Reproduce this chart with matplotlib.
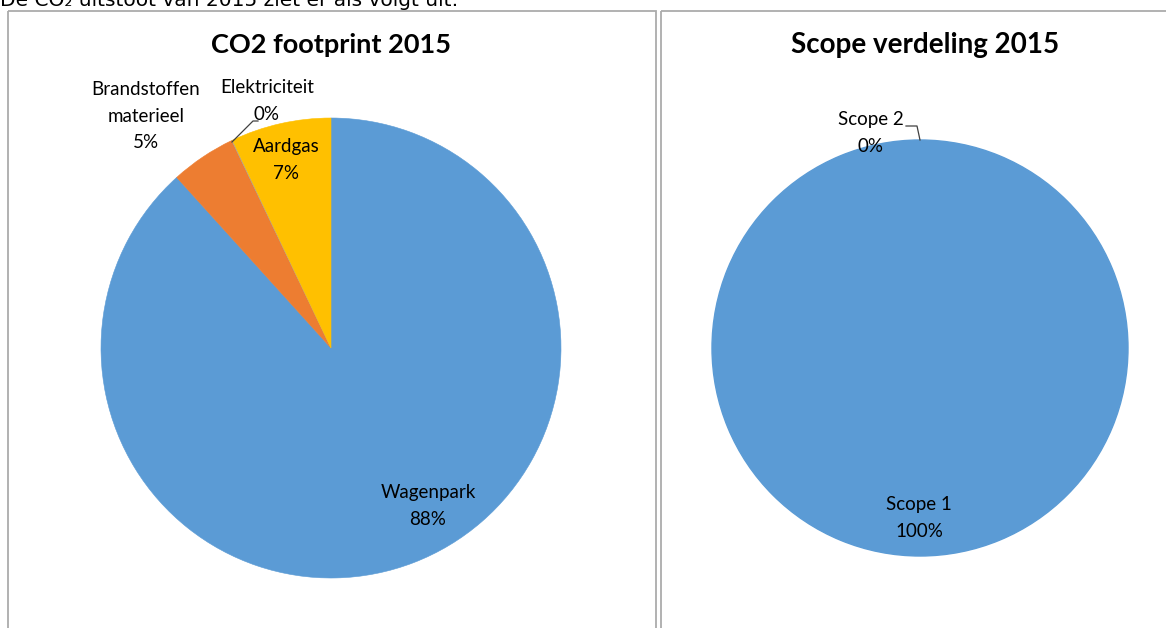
import matplotlib
matplotlib.use("Agg")
import matplotlib.pyplot as plt
from matplotlib.patches import Rectangle

# ---- data ----
co2_categories = ["Wagenpark", "Brandstoffen\nmaterieel", "Elektriciteit", "Aardgas"]
co2_values = [88.3, 4.6, 0.05, 7.05]
co2_colors = ["#5B9BD5", "#ED7D31", "#A5A5A5", "#FFC000"]

scope_categories = ["Scope 1", "Scope 2"]
scope_values = [99.97, 0.03]
scope_colors = ["#5B9BD5", "#ED7D31"]

co2_title = "CO2 footprint 2015"
scope_title = "Scope verdeling 2015"
intro_text = "De CO\u2082 uitstoot van 2015 ziet er als volgt uit:"

W, H = 1166, 628
fig = plt.figure(figsize=(W / 100, H / 100), dpi=100)
fig.patch.set_facecolor("white")

# background axes in pixel coords
bg = fig.add_axes([0, 0, 1, 1], zorder=0)
bg.set_xlim(0, W)
bg.set_ylim(H, 0)
bg.axis("off")

# panel borders
bg.add_patch(Rectangle((8, 11), 648, 640, fill=False, edgecolor="#ABABAB", lw=1.3))
bg.add_patch(Rectangle((661, 11), 560, 640, fill=False, edgecolor="#ABABAB", lw=1.3))

# intro text (cut at top, as in the reference)
bg.text(0, 6.5, intro_text, fontsize=14.5, family="DejaVu Sans", ha="left",
        va="baseline", color="black")


def pie_axes(cx, cy, r):
    ax = fig.add_axes([(cx - r) / W, (H - cy - r) / H, 2 * r / W, 2 * r / H], zorder=1)
    return ax


def finish(ax):
    ax.set_xlim(-1, 1)
    ax.set_ylim(-1, 1)
    ax.set_aspect("equal")
    ax.axis("off")


ax1 = pie_axes(331, 348, 230)
w1, _ = ax1.pie(co2_values, colors=co2_colors, startangle=90, counterclock=False,
                radius=1, wedgeprops=dict(linewidth=0))
for w in w1:
    w.set_edgecolor(w.get_facecolor())
    w.set_linewidth(0.4)
finish(ax1)

ax2 = pie_axes(920, 348, 208)
w2, _ = ax2.pie(scope_values, colors=scope_colors, startangle=90, counterclock=False,
                radius=1, wedgeprops=dict(linewidth=0))
w2[0].set_edgecolor(w2[0].get_facecolor())
w2[0].set_linewidth(1.0)
w2[0].set_zorder(3)
finish(ax2)

# overlay for labels
ov = fig.add_axes([0, 0, 1, 1], zorder=3)
ov.set_xlim(0, W)
ov.set_ylim(H, 0)
ov.axis("off")
ov.patch.set_alpha(0)

lab_font = dict(family="Lato", fontsize=13.5, color="black", ha="center",
                va="center", linespacing=1.68)
title_font = dict(family="Lato", fontweight="bold", color="black",
                  ha="center", va="center")

ov.text(331, 45, co2_title, fontsize=19.5, **title_font)
ov.text(925, 45, scope_title, fontsize=20, **title_font)


def lbl(name, val):
    return f"{name}\n{round(val):.0f}%"


co2_pos = [(428, 506), (146, 116), (267, 101), (286, 160)]
for name, val, (x, y) in zip(co2_categories, co2_values, co2_pos):
    ov.text(x, y, lbl(name, val), **lab_font)

scope_pos = [(919, 518), (871, 133)]
for name, val, (x, y) in zip(scope_categories, scope_values, scope_pos):
    ov.text(x, y, lbl(name, val), **lab_font)

# leader lines
ov.plot([232, 253, 258], [142, 121, 121], color="#404040", lw=0.9)
ov.plot([920, 917, 906], [140, 126, 126], color="#404040", lw=0.9)

fig.savefig("out.png", dpi=100, facecolor="white")
